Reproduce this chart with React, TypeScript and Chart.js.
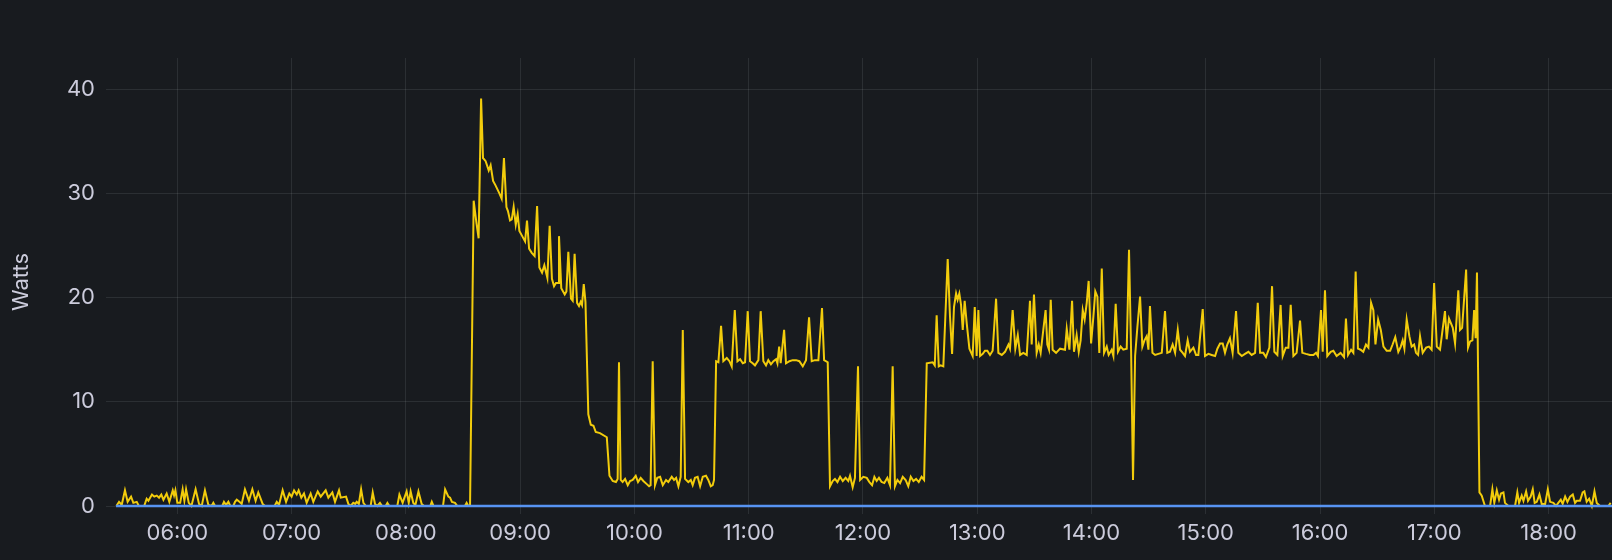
import React, { useEffect, useRef } from "react";
import { Chart, registerables } from "chart.js";

Chart.register(...registerables);

// x values are minutes since midnight, y values are watts
const hourTicks = [360, 420, 480, 540, 600, 660, 720, 780, 840, 900, 960, 1020, 1080];
const hourLabels = ["06:00", "07:00", "08:00", "09:00", "10:00", "11:00", "12:00", "13:00", "14:00", "15:00", "16:00", "17:00", "18:00"];
const wattTicks = [0, 10, 20, 30, 40];
const timeRange = [327.8, 1113.3];
const wattRange = [0, 43];

const nightWatts: [number, number][] = [
  [328, 0], [329.4, 0.4], [330.8, 0.1], [332.5, 1.5], [333.9, 0.4], [335.7, 0.9], [336.9, 0.3], [338.7, 0.4], [339.8, 0],
  [342.6, 0], [343.9, 0.7], [344.8, 0.5], [346.7, 1.1], [347.9, 0.9], [349.2, 1.0], [350.4, 0.8], [351.6, 1.1], [352.7, 0.6],
  [354.4, 1.2], [355.8, 0.4], [357.6, 1.5], [358.3, 1.0], [359, 1.5], [360, 0.3], [361.5, 0.3], [362.8, 1.6], [363.7, 0.5],
  [364.6, 1.6], [366, 0.3], [367.4, 0], [369.6, 1.6], [371.4, 0.2], [372.8, 0], [374.5, 1.5], [376.3, 0.1], [378, 0],
  [378.9, 0.3], [379.8, 0], [383.6, 0], [384.5, 0.4], [385.6, 0.1], [386.8, 0.4], [387.8, 0], [389.4, 0], [390.3, 0.4],
  [391.2, 0.6], [392.6, 0.4], [393.8, 0.2], [395.5, 1.6], [397.6, 0.5], [399.4, 1.6], [401.1, 0.5], [402.5, 1.3], [404.8, 0.2],
  [406, 0], [411.1, 0], [412.2, 0.4], [413.4, 0.1], [415.3, 1.5], [417.1, 0.4], [418.8, 1.2], [420, 0.9], [421.3, 1.5],
  [422.7, 1.1], [423.7, 1.5], [425.1, 0.8], [426.5, 1.2], [427.9, 0.3], [430, 1.2], [431.4, 0.4], [433.7, 1.4], [435.3, 0.9],
  [437.9, 1.5], [439.3, 0.8], [441.4, 1.3], [442.8, 0.4], [444.9, 1.5], [445.8, 0.8], [448.6, 0.9], [449.8, 0.2], [451, 0],
  [452.4, 0.3], [453.4, 0.2], [454.2, 0.4], [455.3, 0.2], [456.5, 1.6], [457.7, 0.3], [459, 0], [461.5, 0], [462.6, 1.3],
  [463.8, 0.2], [465, 0], [466.4, 0.3], [467.5, 0], [469.4, 0], [470.3, 0.3], [471.3, 0], [475.5, 0], [476.6, 1.1],
  [478.3, 0.3], [480.4, 1.4], [481.5, 0.3], [482.5, 1.4], [483.9, 0.3], [485, 0.1], [486.6, 1.4], [488.3, 0.2], [489.5, 0],
  [492.8, 0], [493.6, 0.4], [494.5, 0], [499.5, 0], [500.6, 1.6], [502.3, 0.9], [503.2, 0.8], [504.2, 0.4], [505.8, 0.3],
  [507, 0], [511, 0], [511.9, 0.3], [512.8, 0], [513.7, 0],
];

const morningWatts: [number, number][] = [
  [515.6, 29.3], [517.1, 27.1], [518.2, 25.7], [519.5, 39.1], [520.5, 33.4], [521.9, 33.1], [523.5, 32.2], [524.5, 32.7],
  [525.8, 31.2], [527, 30.8], [529.1, 30.0], [530.3, 29.5], [531.5, 33.4], [532.8, 28.7], [533.6, 28.3], [534.7, 27.4],
  [535.6, 27.5], [536.6, 28.7], [537.7, 27.0], [538.7, 28.0], [539.6, 26.4], [540.8, 26.0], [542.6, 25.4], [543.6, 27.4],
  [544.7, 24.7], [546.1, 24.3], [547.6, 24.0], [548.9, 28.8], [550.1, 22.9], [551.5, 22.4], [552.7, 23.1], [554.3, 21.9],
  [555.5, 26.9], [556.7, 21.8], [557.8, 21.1], [558.8, 21.4], [559.9, 21.4], [560.4, 25.9], [561.6, 20.9], [563.4, 20.3],
  [564.3, 20.6], [565.3, 24.4], [566.7, 19.9], [567.6, 19.7], [568.6, 24.2], [569.9, 19.5], [570.9, 19.2], [571.8, 19.6],
  [572.5, 19.3], [573.4, 21.3], [574.3, 19.6], [575.8, 8.8], [577.1, 7.8], [578.5, 7.7], [579.7, 7.1], [581.9, 7.0],
  [585.5, 6.6], [586.9, 2.9], [588.6, 2.4], [590.3, 2.3], [591.2, 2.6], [591.9, 13.8], [592.8, 2.5], [593.8, 2.3],
  [595.1, 2.6], [596.5, 2.0], [597.7, 2.4], [599.1, 2.5], [600.7, 2.9], [601.9, 2.3], [603.3, 2.7], [604.7, 2.4],
  [606.5, 2.1], [607.7, 1.9], [608.5, 2.0], [609.6, 13.9], [610.8, 2.0], [612, 2.7],
];

const middayWatts: [number, number][] = [
  [613.5, 2.8], [614.9, 2.0], [616.6, 2.5], [617.8, 2.3], [619.6, 2.8], [620.8, 2.5], [621.9, 2.7], [623.1, 1.9],
  [624.3, 2.8], [625.4, 16.9], [626.6, 2.6], [628.3, 2.3], [629.6, 2.5], [630.6, 2.0], [631.8, 2.7], [633.2, 2.8],
  [634.5, 1.9], [635.9, 2.8], [637.6, 2.9], [638.8, 2.5], [640.1, 1.9], [641.1, 2.0], [641.8, 2.5], [642.9, 13.9],
  [644.1, 13.8], [645.5, 17.3], [646.7, 13.9], [648.5, 14.2], [649.9, 13.9], [651.1, 13.4], [652.7, 18.8], [654.1, 13.9],
  [655.5, 14.1], [656.9, 13.7], [658.1, 13.8], [659.5, 18.7], [660.7, 13.9], [662.1, 13.7], [663.3, 13.5], [665.1, 14.0],
  [666.3, 18.7], [667.7, 13.9], [669.1, 13.5], [670.3, 14.0], [671.7, 13.6], [673, 13.9], [674.4, 14.1], [675.1, 13.7],
  [676, 15.3], [676.8, 13.7], [678.6, 16.9], [679.6, 13.7], [681.4, 13.9], [683.1, 14.0], [684.9, 14.0], [686.6, 13.9],
  [688.4, 13.4], [690.1, 14.0], [691.7, 18.1], [693.1, 13.9], [694.8, 14.0], [696.6, 14.0], [698.5, 19.0], [699.6, 14.0],
  [701.5, 13.8], [702.7, 1.9], [704.1, 2.4], [705.3, 2.6], [706.6, 2.3], [708, 2.8], [709.4, 2.4], [710.9, 2.7],
  [712.3, 2.4], [713.2, 2.9], [714.6, 1.8], [715.8, 2.7], [717.4, 13.4], [718.5, 2.5], [720.2, 2.8], [722, 2.7],
  [723.4, 2.3], [724.8, 2.0], [726, 2.8], [727.2, 2.4], [728.4, 2.7], [729.8, 2.3], [731.2, 2.2], [732.8, 2.7],
  [734.2, 2.0], [735.6, 13.4], [736.8, 1.9], [738.1, 2.5], [739.5, 2.2], [740.9, 2.8], [742.4, 2.5], [743.8, 1.9],
  [745.1, 2.8], [746.5, 2.4], [747.9, 2.6], [749.3, 2.3], [750.8, 2.8], [752.1, 2.5], [753.5, 13.7],
];

const afternoonWatts: [number, number][] = [
  [756.6, 13.8], [757.7, 13.5], [758.7, 18.3], [759.8, 13.4], [760.8, 13.5], [762.2, 13.4], [764.5, 23.7], [765.7, 18.2],
  [766.8, 14.6], [767.8, 19.1], [768.9, 20.4], [769.7, 19.8], [770.6, 20.4], [771.5, 19.3], [772.4, 16.9], [773.4, 19.7],
  [774.5, 17.5], [775.9, 15.1], [777.1, 14.6], [777.6, 14.4], [778.7, 19.1], [779.7, 14.4], [780.6, 18.8], [781.5, 14.4],
  [782.9, 14.6], [784.1, 14.9], [785.3, 14.9], [786.7, 14.5], [788.1, 14.9], [789.9, 19.9], [791.1, 14.7], [792.9, 14.5],
  [794.6, 14.8], [796.4, 15.5], [797.2, 15.1], [798.6, 18.8], [800, 15.1], [801.3, 16.4], [802.5, 14.5], [804.2, 14.7],
  [806, 14.5], [807.7, 19.7], [808.6, 15.5], [809.8, 20.3], [811.2, 14.7], [812.3, 15.5], [813.3, 14.7], [814.7, 16.9],
  [815.9, 18.8], [816.8, 15.5], [817.7, 15.0], [818.6, 19.8], [819.6, 15.0], [821.4, 14.7], [823.5, 15.1], [826.1, 15.0],
  [827, 17.0], [828.4, 15.0], [829.8, 19.7], [830.8, 14.8], [832.2, 16.4], [833.3, 14.8], [834.3, 15.9], [835.4, 18.8],
  [836.4, 17.9], [837.5, 19.5], [838.5, 21.6], [839.8, 15.6], [841, 18.2], [842, 20.6], [843.1, 20.1], [844.1, 14.7],
  [845.4, 22.8], [846.6, 14.7], [848, 15.3], [849, 14.5], [850.6, 15.0], [851.5, 14.4], [852.7, 19.4], [853.9, 14.8],
  [855.3, 15.3], [856.7, 15.0], [858.5, 15.1], [859.7, 24.6], [860.8, 14.8], [861.8, 2.5], [862.9, 14.4], [864.1, 17.2],
  [865.5, 20.1], [866.7, 15.3], [867.8, 15.9], [869, 16.3], [869.9, 15.0], [870.7, 19.2], [872, 14.7], [873.4, 14.5],
  [875.1, 14.6], [876.9, 14.7], [878.6, 18.7], [879.8, 14.7], [881.2, 14.8], [882.6, 15.5], [883.9, 14.7], [885.3, 16.9],
  [886.5, 15.0], [887.9, 14.7], [889.1, 14.4], [890.5, 15.9], [891.7, 14.8], [893.5, 15.2], [894.9, 14.5], [896.1, 14.5],
  [898.4, 18.9], [899.6, 14.4], [901.4, 14.6], [903.1, 14.5], [904.9, 14.4], [906.1, 15.1],
];

const lateWatts: [number, number][] = [
  [907.5, 15.6], [908.9, 15.6], [910.1, 14.7], [911.3, 15.5], [912.7, 16.1], [914.1, 14.7], [915.9, 18.7], [917.1, 14.7],
  [918.9, 14.4], [920.6, 14.6], [922.4, 14.8], [924.1, 14.5], [925.9, 14.7], [927.3, 19.5], [928.5, 14.7], [930.2, 14.7],
  [931.6, 14.3], [933.4, 15.2], [934.8, 21.1], [936, 14.8], [937.6, 14.5], [939.3, 19.3], [940.4, 14.4], [942, 15.2],
  [943.4, 15.2], [944.6, 19.3], [946, 14.4], [947.7, 14.7], [949.5, 17.8], [950.7, 14.7], [952.6, 14.6], [954.7, 14.5],
  [956.5, 14.5], [957.9, 14.7], [958.9, 14.4], [960.5, 18.8], [961.4, 14.8], [962.6, 20.7], [963.8, 14.4], [965.6, 14.8],
  [967, 14.9], [968.7, 14.4], [970.8, 14.7], [972.6, 14.3], [973.6, 18.0], [974.7, 14.5], [976.3, 15.0], [977.5, 14.7],
  [978.7, 22.5], [979.9, 15.1], [981.3, 15.0], [982.7, 14.8], [984.1, 15.5], [985.4, 15.2], [986.8, 19.5], [988, 18.8],
  [989.1, 15.5], [990.5, 17.9], [991.9, 16.9], [993.3, 15.3], [995, 14.9], [996.8, 14.9], [998.1, 15.5], [999.5, 16.2],
  [1001.1, 14.8], [1002.4, 15.3], [1003.4, 15.9], [1004.3, 15.1], [1005.5, 17.9], [1006.9, 16.3], [1008.1, 15.3],
  [1009.4, 15.5], [1010.4, 14.7], [1011.5, 14.5], [1012.5, 16.3], [1013.9, 14.7], [1015.7, 15.2], [1017.2, 15.3],
  [1018.6, 15.0], [1019.9, 21.4], [1021.3, 15.3],
];

const eveningWatts: [number, number][] = [
  [1023, 15.0], [1025.6, 18.7], [1026.5, 16.0], [1027.7, 18.0], [1029.7, 17.1], [1030.9, 15.6], [1032.6, 20.7],
  [1033.5, 16.9], [1034.6, 17.1], [1036.7, 22.7], [1037.7, 15.2], [1038.8, 15.8], [1040, 15.9], [1040.9, 18.8],
  [1041.7, 16.1], [1042.4, 22.4], [1043.7, 1.3], [1044.9, 1.0], [1046.6, 0], [1049.3, 0], [1050.5, 1.6], [1051.5, 0.3],
  [1052.8, 1.5], [1054, 0.6], [1055, 1.2], [1056.3, 1.3], [1057.1, 0.3], [1058.9, 0], [1062.4, 0], [1063.6, 1.3],
  [1064.5, 0.3], [1065.9, 1.0], [1066.8, 0.5], [1068.2, 1.4], [1069.2, 0.5], [1070.6, 0.9], [1071.7, 1.6], [1072.7, 0.3],
  [1073.8, 0.4], [1075.2, 1.1], [1076.4, 0.2], [1078.2, 0.2], [1079.6, 1.6], [1080.8, 0.4], [1082.5, 0.3], [1083.9, 0],
  [1085.1, 0.3], [1086.4, 0.6], [1087.4, 0.2], [1088.7, 0.9], [1089.9, 0.4], [1091.3, 0.9], [1092.7, 1.1], [1093.9, 0.3],
  [1094.8, 0.5], [1096.5, 0.5], [1097.9, 1.3], [1098.8, 1.4], [1100, 0.4], [1101.3, 0.7], [1102.7, 0], [1104.1, 1.4],
  [1105.3, 0.3], [1107, 0], [1111.4, 0], [1112.6, 0.3],
];

const baselineWatts: [number, number][] = [
  [327.8, 0],
  [1113.3, 0],
];

const BG = "#181b1f";
const GRID = "rgba(240, 250, 255, 0.09)";
const TEXT = "rgb(204, 204, 220)";
const YELLOW = "#F2CC0C";
const BLUE = "#5794F2";
const FONT = "Inter";

const toPoints = (rows: [number, number][]) => rows.map(([x, y]) => ({ x, y }));

export default function App() {
  const canvasRef = useRef<HTMLCanvasElement>(null);

  useEffect(() => {
    document.body.style.margin = "0";
    document.body.style.background = BG;
    const canvas = canvasRef.current;
    if (!canvas) return;

    const power = [
      ...nightWatts,
      ...morningWatts,
      ...middayWatts,
      ...afternoonWatts,
      ...lateWatts,
      ...eveningWatts,
    ];

    const chart = new Chart(canvas, {
      type: "line",
      data: {
        datasets: [
          {
            label: "Baseline",
            data: toPoints(baselineWatts),
            borderColor: BLUE,
            borderWidth: 2.6,
            pointRadius: 0,
            tension: 0,
            clip: false,
          },
          {
            label: "Watts",
            data: toPoints(power),
            borderColor: YELLOW,
            borderWidth: 2,
            pointRadius: 0,
            tension: 0,
            clip: false,
          },
        ],
      },
      options: {
        responsive: false,
        animation: false,
        layout: { padding: { top: 58, right: 0, left: 0, bottom: 0 } },
        plugins: {
          legend: { display: false },
          tooltip: { enabled: false },
        },
        scales: {
          x: {
            type: "linear",
            min: timeRange[0],
            max: timeRange[1],
            afterBuildTicks: (scale: any) => {
              scale.ticks = hourTicks.map((v) => ({ value: v }));
            },
            afterFit: (scale: any) => {
              scale.height = 54;
            },
            grid: { color: GRID, lineWidth: 1, tickLength: 8, drawTicks: true },
            border: { display: false },
            ticks: {
              color: TEXT,
              font: { family: FONT, size: 22 },
              padding: 6,
              maxRotation: 0,
              autoSkip: false,
              callback: (value: any) => {
                const i = hourTicks.indexOf(Number(value));
                return i >= 0 ? hourLabels[i] : "";
              },
            },
          },
          y: {
            type: "linear",
            min: wattRange[0],
            max: wattRange[1],
            afterBuildTicks: (scale: any) => {
              scale.ticks = wattTicks.map((v) => ({ value: v }));
            },
            afterFit: (scale: any) => {
              scale.width = 116;
            },
            grid: { color: GRID, lineWidth: 1, tickLength: 10, drawTicks: true },
            border: { display: false },
            ticks: {
              color: TEXT,
              font: { family: FONT, size: 22 },
              padding: 11,
              callback: (value: any) => String(value),
            },
            title: {
              display: true,
              text: "Watts",
              color: TEXT,
              font: { family: FONT, size: 22 },
              padding: { top: 8, bottom: 0 },
            },
          },
        },
      },
    });

    return () => chart.destroy();
  }, []);

  return (
    <div style={{ width: 1612, height: 560, background: BG }}>
      <canvas ref={canvasRef} width={1612} height={560} style={{ display: "block" }} />
    </div>
  );
}
